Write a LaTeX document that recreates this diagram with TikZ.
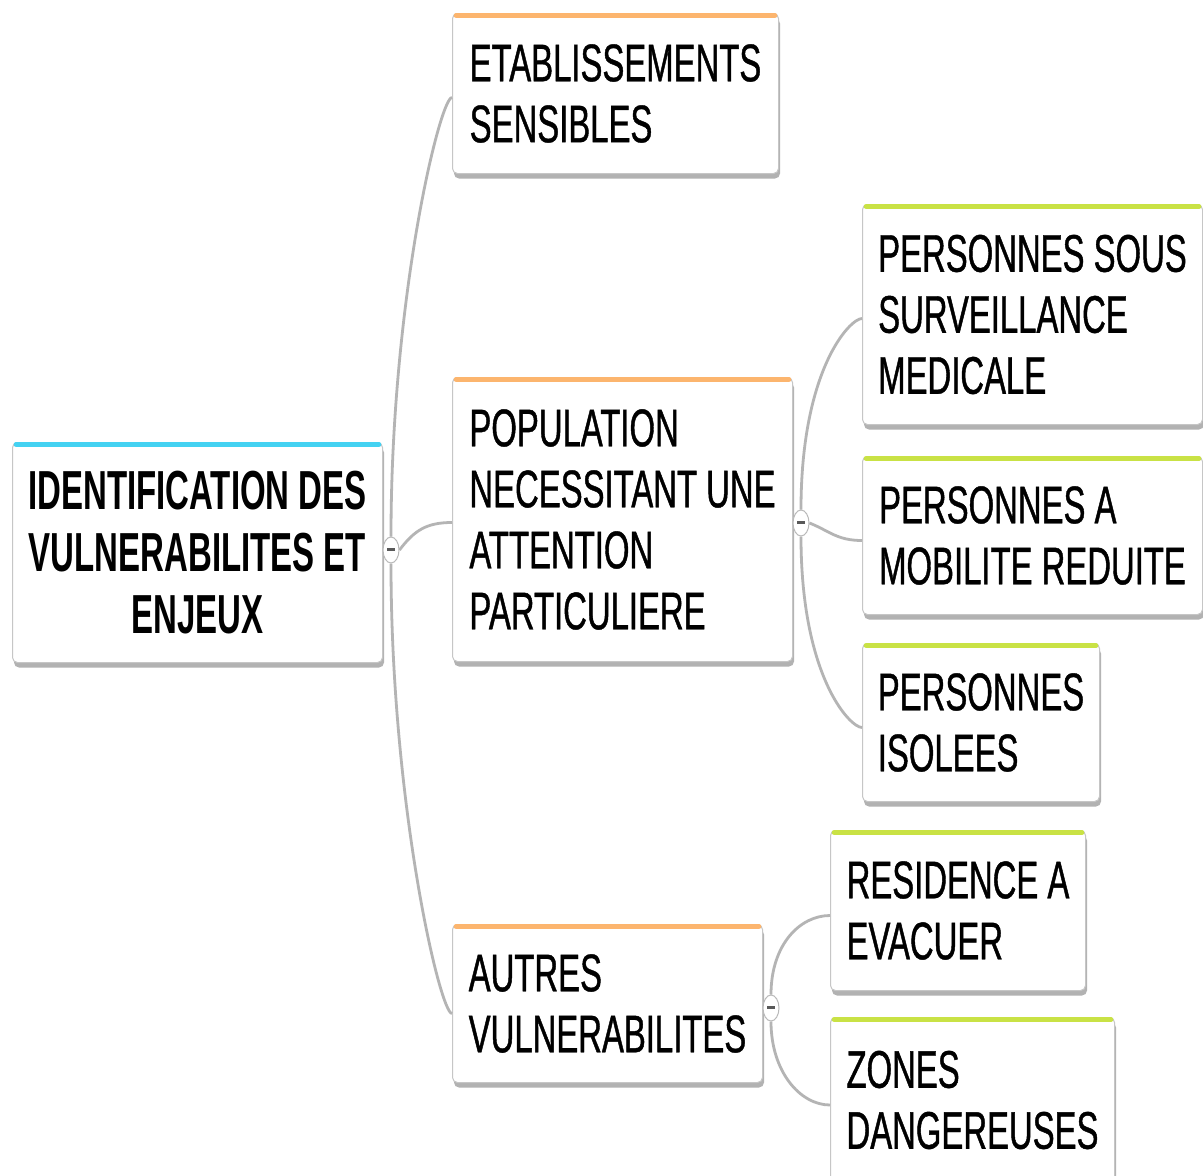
\documentclass[tikz,border=0pt]{standalone}
\usepackage{fontspec}
\newfontfamily\mapfont[FakeStretch=0.62, FakeBold=0.8]{Liberation Sans}
\newfontfamily\rootfont[FakeStretch=0.6]{Liberation Sans}
\usetikzlibrary{shapes.geometric,shadows}
\definecolor{rootbar}{HTML}{44D2F2}
\definecolor{topicbar}{HTML}{FCB56E}
\definecolor{subbar}{HTML}{C9E245}
\definecolor{linkgray}{HTML}{B4B4B4}

\begin{document}
\begin{tikzpicture}[x=1pt,y=-1pt,
    box/.style={draw=gray!45, line width=1pt, fill=white, rounded corners=5pt,
        anchor=north west, inner xsep=12pt, inner ysep=0pt, align=left,
        drop shadow={shadow xshift=1.5pt, shadow yshift=-5pt, fill=black!30, opacity=1},
        font={\mapfont\fontsize{53}{61}\selectfont}},
    rootbox/.style={box, align=center, font={\rootfont\bfseries\fontsize{55}{62}\selectfont}},
    fold/.style={ellipse, draw=gray!55, line width=1pt, fill=white,
        minimum width=16pt, minimum height=26pt, inner sep=0pt},
    link/.style={draw=linkgray, line width=2.8pt},
    bar/.style={line width=4.5pt, line cap=round}]

    \useasboundingbox[fill=white] (0,0) rectangle (1203,1176);

    \node[rootbox, minimum width=370pt, minimum height=220pt] (root) at (12,442)
        {IDENTIFICATION DES\\VULNERABILITES ET\\ENJEUX};

    \node[box, minimum width=326pt, minimum height=160pt] (etab) at (452,13)
        {ETABLISSEMENTS\\SENSIBLES};
    \node[box, minimum width=340pt, minimum height=284pt] (pop) at (452,377)
        {POPULATION\\NECESSITANT UNE\\ATTENTION\\PARTICULIERE};
    \node[box, minimum width=310pt, minimum height=158pt] (autres) at (452,924)
        {AUTRES\\VULNERABILITES};

    \node[box, minimum width=340pt, minimum height=220pt] (psous) at (862,204)
        {PERSONNES SOUS\\SURVEILLANCE\\MEDICALE};
    \node[box, minimum width=340pt, minimum height=158pt] (pa) at (862,456)
        {PERSONNES A\\MOBILITE REDUITE};
    \node[box, minimum width=237pt, minimum height=158pt] (isol) at (862,643)
        {PERSONNES\\ISOLEES};
    \node[box, minimum width=255pt, minimum height=160pt] (res) at (830,830)
        {RESIDENCE A\\EVACUER};
    \node[box, minimum width=284pt, minimum height=165pt] (zones) at (830,1017)
        {ZONES\\DANGEREUSES};

    \foreach \n/\c in {root/rootbar, etab/topicbar, pop/topicbar, autres/topicbar,
        psous/subbar, pa/subbar, isol/subbar, res/subbar, zones/subbar}
        \draw[bar, \c] ([xshift=4pt,yshift=-2.5pt]\n.north west) -- ([xshift=-4pt,yshift=-2.5pt]\n.north east);

    \node[fold] (c1) at (391,550) {\color{gray!70!black}\rule[2pt]{8pt}{3pt}};
    \node[fold] (c2) at (801,523) {\color{gray!70!black}\rule[2pt]{8pt}{3pt}};
    \node[fold] (c3) at (771,1008) {\color{gray!70!black}\rule[2pt]{8pt}{3pt}};

    \draw[link] (c1.north) .. controls +(0,-238) and +(-12,0) .. ([yshift=-4pt]etab.west);
    \draw[link] (c1.east) .. controls +(15,-20) and +(-25,0) .. ([yshift=-3pt]pop.west);
    \draw[link] (c1.south) .. controls +(0,240) and +(-12,0) .. ([yshift=-10pt]autres.west);

    \draw[link] (c2.north) .. controls +(0,-140) and +(-12,0) .. ([yshift=-4pt]psous.west);
    \draw[link] (c2.east) .. controls +(20,8) and +(-25,0) .. ([yshift=-5pt]pa.west);
    \draw[link] (c2.south) .. controls +(0,140) and +(-12,0) .. ([yshift=-5pt]isol.west);

    \draw[link] (c3.north) .. controls +(0,-50) and +(-30,0) .. ([yshift=-5pt]res.west);
    \draw[link] (c3.south) .. controls +(0,50) and +(-30,0) .. ([yshift=-5pt]zones.west);
\end{tikzpicture}
\end{document}
